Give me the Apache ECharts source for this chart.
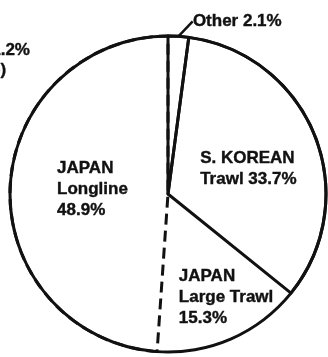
<!DOCTYPE html>
<html>
<head>
<meta charset="utf-8">
<style>
  html, body { margin: 0; padding: 0; background: #fff; }
  #chart { width: 328px; height: 357px; }
</style>
<script src="https://cdn.jsdelivr.net/npm/echarts@6/dist/echarts.min.js"></script>
</head>
<body>
<div id="chart"></div>
<script>
// Catch shares by fleet (percent)
const fleets = ['Other', 'S. KOREAN Trawl', 'JAPAN Large Trawl', 'JAPAN Longline'];
const shares = [2.1, 33.7, 15.3, 48.9];
const labelLines = [
  ['Other 2.1%'],
  ['S. KOREAN', 'Trawl 33.7%'],
  ['JAPAN', 'Large Trawl', '15.3%'],
  ['JAPAN', 'Longline', '48.9%']
];

const FONT = '"Liberation Sans", Arial, Helvetica, sans-serif';
const INK = '#111';
const center = [168, 194];
const R = 158;

// per-slice outline and label placement
const sliceBorder = [
  { borderColor: INK, borderWidth: 3, borderType: 'solid' },
  { borderColor: INK, borderWidth: 3, borderType: 'solid' },
  { borderWidth: 0 },
  { borderColor: INK, borderWidth: 3, borderType: [11, 6] }
];
const labelOffsets = [null, [6, 5], [28, 28], [21, -2]];

function blockLabel(lines) {
  return lines.map(l => '{t|' + l + '}').join('\n');
}

const textBase = {
  color: INK,
  fontFamily: FONT,
  fontWeight: 'bold',
  fontSize: 17,
  textBorderColor: INK,
  textBorderWidth: 0.4
};

const sliceData = fleets.map((name, i) => {
  const item = {
    name: name,
    value: shares[i],
    itemStyle: Object.assign({ color: 'rgba(0,0,0,0)' }, sliceBorder[i])
  };
  if (i === 0) {
    item.label = Object.assign({
      show: true,
      position: 'outside',
      formatter: labelLines[0][0]
    }, textBase);
    item.labelLine = {
      show: true,
      length: 10,
      length2: 0,
      lineStyle: { color: INK, width: 2.5 }
    };
  } else {
    item.label = {
      show: true,
      position: 'inside',
      offset: labelOffsets[i],
      formatter: blockLabel(labelLines[i]),
      rich: { t: Object.assign({ width: 100, align: 'left', lineHeight: 21 }, textBase) }
    };
    item.labelLine = { show: false };
  }
  return item;
});

const chart = echarts.init(document.getElementById('chart'), null, { renderer: 'canvas' });
chart.setOption({
  backgroundColor: '#fff',
  animation: false,
  graphic: [
    {
      type: 'text', left: -9, top: 42,
      style: { text: '1.2%', font: 'bold 17px ' + FONT, fill: INK, stroke: INK, lineWidth: 0.4 }
    },
    {
      type: 'text', left: -10, top: 62,
      style: { text: 'o)', font: 'bold 17px ' + FONT, fill: INK, stroke: INK, lineWidth: 0.4 }
    }
  ],
  series: [
    {
      type: 'pie',
      center: center,
      radius: [0, R],
      startAngle: 90,
      clockwise: true,
      avoidLabelOverlap: false,
      emphasis: { disabled: true },
      // the small slice's callout sits up and to the right of its pointer
      labelLayout: function (p) {
        if (p.dataIndex !== 0) return {};
        return {
          x: p.labelRect.x + 9,
          y: p.labelRect.y + p.labelRect.height / 2 - 5,
          align: 'left',
          verticalAlign: 'middle'
        };
      },
      data: sliceData
    },
    {
      // solid outer rim
      type: 'pie',
      center: center,
      radius: [R - 1.5, R + 1.5],
      startAngle: 90,
      silent: true,
      emphasis: { disabled: true },
      label: { show: false },
      labelLine: { show: false },
      itemStyle: { color: INK, borderWidth: 0 },
      data: shares.map((v, i) => ({ name: fleets[i], value: v }))
    }
  ]
});
</script>
</body>
</html>
